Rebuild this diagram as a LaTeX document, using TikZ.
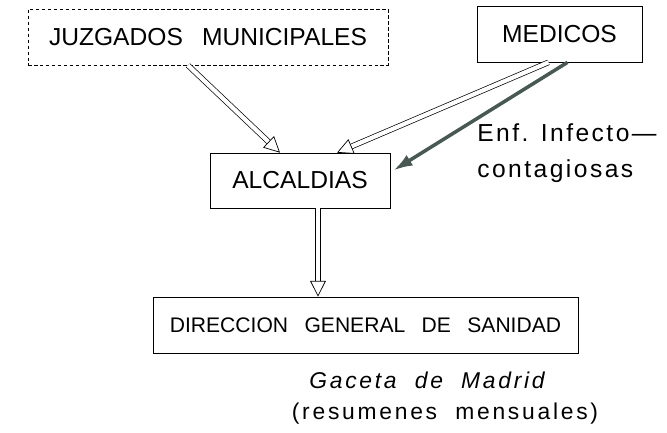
\documentclass[tikz,border=0pt]{standalone}
\usepackage{fontspec}
\setmainfont{Liberation Sans}
\newfontfamily\boxfont[WordSpace=2.8]{Liberation Sans}
\newfontfamily\notefont[LetterSpace=12,WordSpace=2]{Liberation Sans}
\newfontfamily\enffont[LetterSpace=10]{Liberation Sans}
\usepackage{tikz}
\usetikzlibrary{arrows.meta,calc}
\definecolor{arrowgrey}{RGB}{72,88,82}

\begin{document}
\begin{tikzpicture}[x=0.02cm,y=-0.02cm,
    main_node/.style={draw,thin,inner sep=0pt,minimum height=1.12cm,font=\boxfont\fontsize{14}{16}\selectfont},
    note_node/.style={font=\notefont\fontsize{13}{15}\selectfont},
    enf_node/.style={anchor=base west,inner sep=0pt,font=\enffont\fontsize{14}{16}\selectfont},
    hollow_arrow/.style={double,double distance=2.4pt,thin,-{Triangle[open,length=9pt,width=9pt]}},
    dark_arrow/.style={draw=arrowgrey,line width=2pt,-{Latex[length=11pt,width=7pt]}}]
    \useasboundingbox (0,0) rectangle (667,433);
	\node[main_node,dash pattern=on 2pt off 1.4pt,minimum width=7.2cm] (juz) at (208,37) {JUZGADOS MUNICIPALES};
    \node[main_node,minimum width=3.3cm] (med) at (559.5,34) {MEDICOS};
    \node[main_node,minimum width=3.6cm,minimum height=1.1cm] (alc) at (300,180.5) {ALCALDIAS};
    \node[main_node,minimum width=8.5cm,font=\boxfont\fontsize{12}{14}\selectfont] (dir) at (365.5,325) {DIRECCION GENERAL DE SANIDAD};
    \node[enf_node] (enf) at (477,141) {Enf. Infecto—};
    \node[enf_node] (enf_b) at (477,177) {contagiosas};
    \node[note_node,font=\notefont\itshape\fontsize{13}{15}\selectfont] (gac) at (427,380) {Gaceta de Madrid};
    \node[note_node] (res) at (445,414) {(resumenes mensuales)};
    \coordinate (alc_out) at ($(alc.south)+(18,0)$);
    \draw[hollow_arrow] ($(juz.south)+(-20,0)$) -- ($(alc.north)+(-20,0)$);
    \draw[hollow_arrow] ($(med.south)+(-11,0)$) -- ($(alc.north)+(37,0)$);
    \draw[dark_arrow] ($(med.south)+(8,0)$) -- ($(alc.east)+(3,-10)$);
    \draw[hollow_arrow] (alc_out) -- (alc_out |- dir.north);
\end{tikzpicture}
\end{document}
